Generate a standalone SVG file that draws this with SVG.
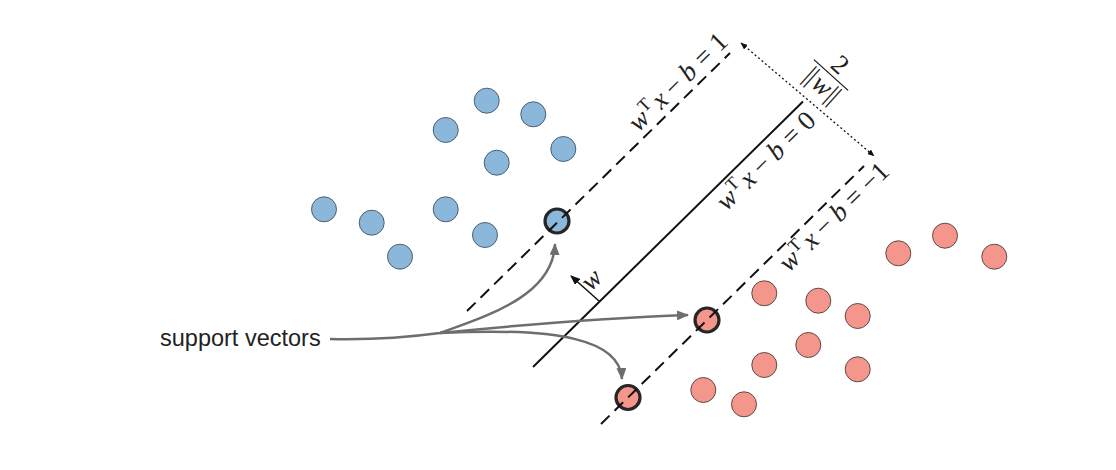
<svg xmlns="http://www.w3.org/2000/svg" width="1116" height="470" viewBox="0 0 1116 470">
<style>
.blue{fill:#8bb7db;stroke:#4d5f70;stroke-width:1}
.red{fill:#f5968c;stroke:#5f4a48;stroke-width:1}
.sv{stroke:#262626;stroke-width:3.2}
.dash{stroke:#111;stroke-width:2;stroke-dasharray:12 7;fill:none}
.solid{stroke:#111;stroke-width:2;fill:none}
.conn{stroke:#6e6e6e;stroke-width:2.5;fill:none}
.m{font-family:"Liberation Serif","DejaVu Serif",serif;font-size:27px;fill:#222}
.i{font-style:italic}
.lbl{font-family:"Liberation Sans",Arial,sans-serif;font-size:23.5px;fill:#222}
</style>
<defs>
<marker id="ga" viewBox="0 0 12 10" refX="11" refY="5" markerWidth="12" markerHeight="10" markerUnits="userSpaceOnUse" orient="auto"><path d="M0,0 L12,5 L0,10 Z" fill="#6e6e6e"/></marker>
<marker id="ba" viewBox="0 0 10 8" refX="9" refY="4" markerWidth="10" markerHeight="8" markerUnits="userSpaceOnUse" orient="auto"><path d="M0,0 L10,4 L0,8 Z" fill="#111"/></marker>
<marker id="da" viewBox="0 0 7 6" refX="6.5" refY="3" markerWidth="7" markerHeight="6" markerUnits="userSpaceOnUse" orient="auto-start-reverse"><path d="M0,0 L7,3 L0,6 Z" fill="#111"/></marker>
</defs>
<rect width="1116" height="470" fill="#fff"/>
<g id="blue-points">
<circle class="blue" cx="486.7" cy="100.7" r="12.5"/>
<circle class="blue" cx="533.3" cy="114.3" r="12.5"/>
<circle class="blue" cx="445.7" cy="130" r="12.5"/>
<circle class="blue" cx="563.3" cy="149" r="12.5"/>
<circle class="blue" cx="496.7" cy="162.7" r="12.5"/>
<circle class="blue" cx="324" cy="209.3" r="12.5"/>
<circle class="blue" cx="371.7" cy="222.7" r="12.5"/>
<circle class="blue" cx="445.7" cy="209.3" r="12.5"/>
<circle class="blue" cx="485" cy="235" r="12.5"/>
<circle class="blue" cx="400" cy="256.7" r="12.5"/>
</g>
<g id="red-points">
<circle class="red" cx="898.3" cy="253.3" r="12.5"/>
<circle class="red" cx="945" cy="235.7" r="12.5"/>
<circle class="red" cx="994.3" cy="256.7" r="12.5"/>
<circle class="red" cx="764.3" cy="293.3" r="12.5"/>
<circle class="red" cx="818.3" cy="300.7" r="12.5"/>
<circle class="red" cx="857.7" cy="316" r="12.5"/>
<circle class="red" cx="808.3" cy="345" r="12.5"/>
<circle class="red" cx="764.3" cy="365" r="12.5"/>
<circle class="red" cx="857.7" cy="369.3" r="12.5"/>
<circle class="red" cx="703.3" cy="390" r="12.5"/>
<circle class="red" cx="744" cy="404.3" r="12.5"/>
</g>
<g id="support-vectors">
<circle class="blue sv" cx="557" cy="221" r="12"/>
<circle class="red sv" cx="707" cy="320" r="12"/>
<circle class="red sv" cx="628" cy="397.5" r="12"/>
</g>
<g id="hyperplanes">
<line class="dash" x1="467" y1="311" x2="730" y2="53"/>
<line class="solid" x1="533" y1="367" x2="803" y2="101.5"/>
<line class="dash" x1="601" y1="424" x2="864" y2="166"/>
<line stroke="#111" stroke-width="1.3" stroke-dasharray="2 2.5" x1="741" y1="43" x2="874" y2="156" marker-start="url(#da)" marker-end="url(#da)"/>
<line stroke="#111" stroke-width="1.5" x1="599" y1="301" x2="571" y2="276" marker-end="url(#ba)"/>
</g>
<g id="labels">
<text class="m" text-anchor="middle" transform="translate(684,88) rotate(-44.5)"><tspan class="i">w</tspan><tspan font-size="18" dy="-10">T</tspan><tspan class="i" dx="3" dy="10">x</tspan><tspan dx="6">−</tspan><tspan class="i" dx="6">b</tspan><tspan dx="7">=</tspan><tspan dx="7">1</tspan></text>
<text class="m" text-anchor="middle" transform="translate(772,167) rotate(-44.5)"><tspan class="i">w</tspan><tspan font-size="18" dy="-10">T</tspan><tspan class="i" dx="3" dy="10">x</tspan><tspan dx="6">−</tspan><tspan class="i" dx="6">b</tspan><tspan dx="7">=</tspan><tspan dx="7">0</tspan></text>
<text class="m" text-anchor="middle" transform="translate(840,223) rotate(-44.5)"><tspan class="i">w</tspan><tspan font-size="18" dy="-10">T</tspan><tspan class="i" dx="3" dy="10">x</tspan><tspan dx="6">−</tspan><tspan class="i" dx="6">b</tspan><tspan dx="7">=</tspan><tspan dx="7">−1</tspan></text>
<text class="m i" text-anchor="middle" transform="translate(597.5,285.6) rotate(-44.5)">w</text>
<g id="margin" transform="translate(831,75) rotate(42)">
<line x1="-23" y1="0" x2="23" y2="0" stroke="#111" stroke-width="1.2"/>
<text class="m" text-anchor="middle" x="0" y="-5">2</text>
<text class="m" text-anchor="middle" x="0" y="22" letter-spacing="-1">||<tspan class="i" dx="2">w</tspan><tspan dx="2">||</tspan></text>
</g>
<text class="lbl" x="160" y="346">support vectors</text>
</g>
<g id="connectors">
<path class="conn" d="M330,339 C370,340 410,337 440,333 C490,315 553,295 555,244" marker-end="url(#ga)"/>
<path class="conn" d="M440,333 C520,325 600,318 688,315" marker-end="url(#ga)"/>
<path class="conn" d="M440,333 C560,327 620,340 622,379" marker-end="url(#ga)"/>
</g>
</svg>
